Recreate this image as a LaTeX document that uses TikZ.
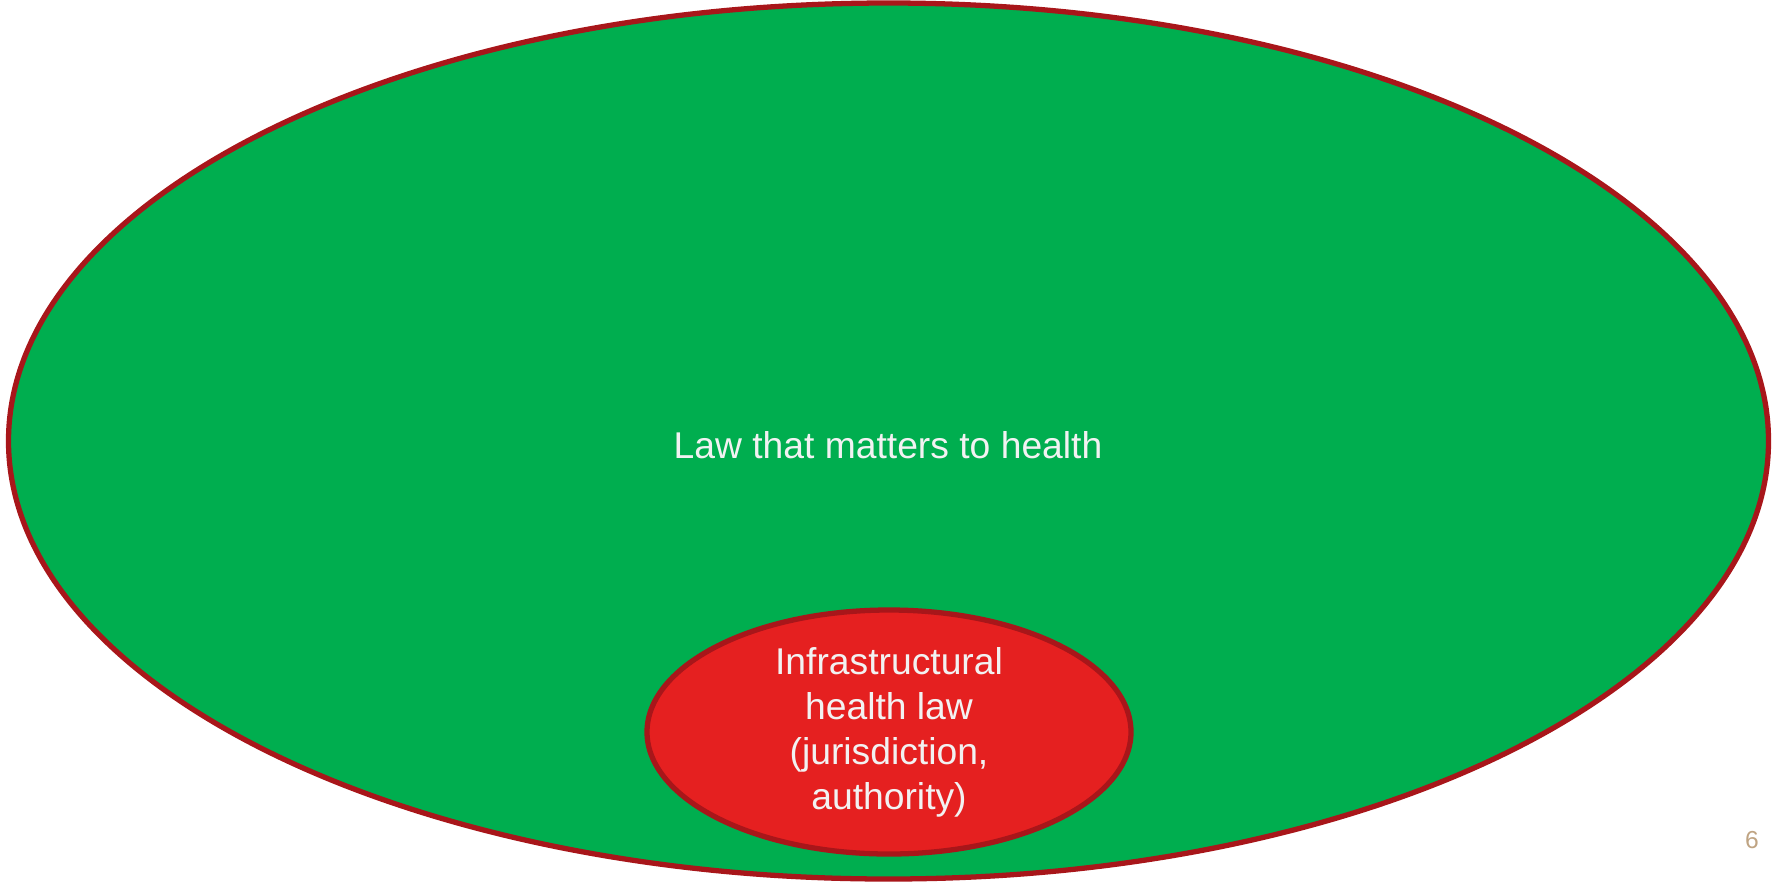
\documentclass[tikz,border=0pt]{standalone}
\usepackage{fontspec}
\setmainfont{Liberation Sans}
\usetikzlibrary{shapes.geometric}
\definecolor{vert}{RGB}{0,174,79}
\definecolor{rouge}{RGB}{229,32,32}
\definecolor{bord}{RGB}{168,22,26}
\definecolor{texte}{RGB}{242,242,242}
\definecolor{numero}{RGB}{191,164,131}
\begin{document}
\begin{tikzpicture}
    \tikzstyle{zone}=[ellipse,draw=bord,line width=1.5pt,inner sep=0pt,
                      text=texte,font=\fontsize{10.6}{12.8}\selectfont,align=center]
    \useasboundingbox (0,0) rectangle (17.73,8.82);
    \node[zone,fill=vert,minimum width=17.60cm,minimum height=8.76cm] (droit) at (8.885,4.41) {};
    \node[text=texte,font=\fontsize{10.6}{12.8}\selectfont] (titre) at (8.88,4.37) {Law that matters to health};
    \node[zone,fill=rouge,minimum width=4.84cm,minimum height=2.44cm] (infra) at (8.89,1.50)
       {Infrastructural\\health law\\(jurisdiction,\\authority)};
    % numero de page
    \node[text=numero,font=\fontsize{7}{8}\selectfont] (page) at (17.52,0.42) {6};
\end{tikzpicture}
\end{document}
